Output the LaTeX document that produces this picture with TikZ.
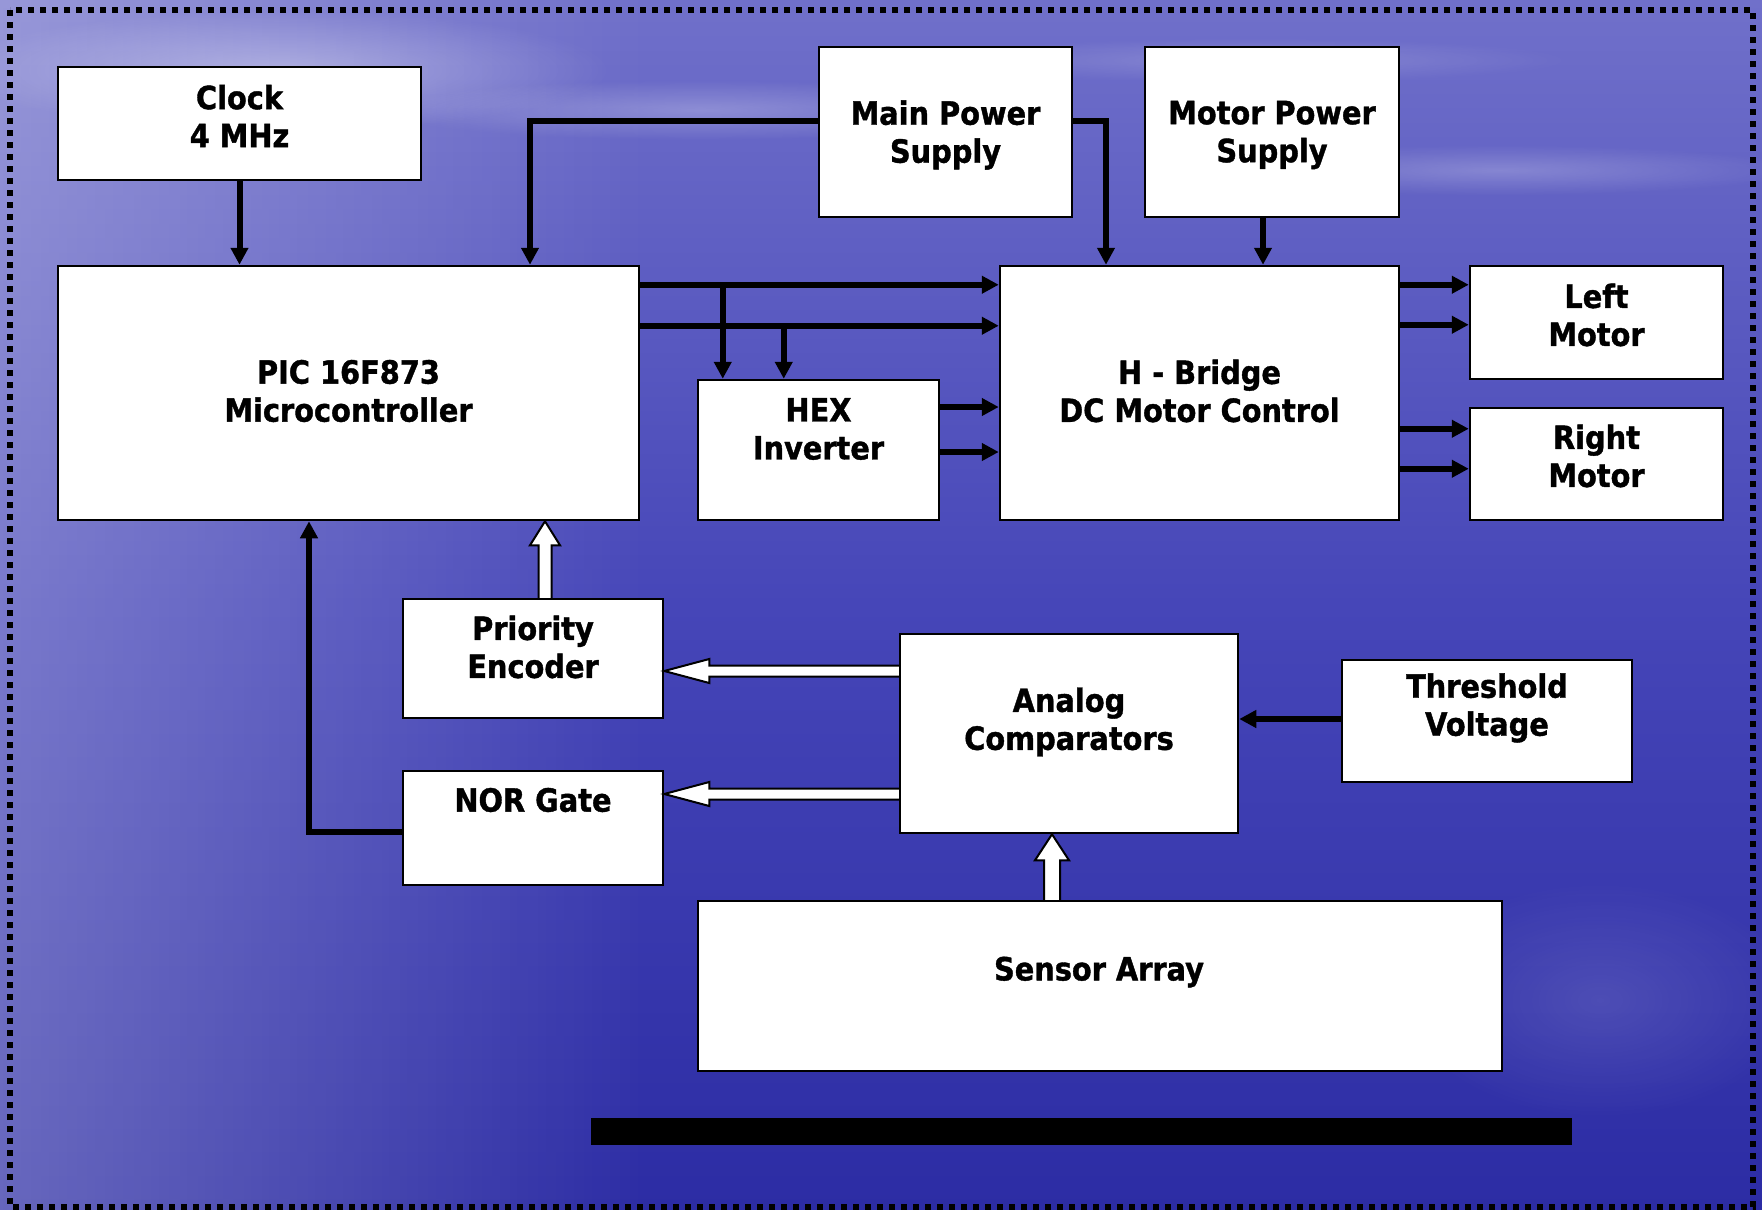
\documentclass[tikz,border=0pt]{standalone}
\usepackage{fontspec}
\setmainfont{DejaVu Sans}[FakeStretch=0.9,BoldFeatures={FakeBold=1.2}]
\usetikzlibrary{arrows.meta,calc,fadings}
\definecolor{bgtop}{RGB}{112,112,202}
\definecolor{bgmid}{RGB}{70,70,184}
\definecolor{bgbot}{RGB}{44,44,164}
\tikzfading[name=fuzzy, inner color=transparent!0, outer color=transparent!100]
\newcommand\hollowup[5]{%
  \draw[hollow] ($(#1)+(-#3,0)$) -- ($(#2)+(-#3,#5)$) -- ($(#2)+(-#4,#5)$) -- (#2)
    -- ($(#2)+(#4,#5)$) -- ($(#2)+(#3,#5)$) -- ($(#1)+(#3,0)$);}
\newcommand\hollowleft[5]{%
  \draw[hollow] ($(#1)+(0,-#3)$) -- ($(#2)+(#5,-#3)$) -- ($(#2)+(#5,-#4)$) -- (#2)
    -- ($(#2)+(#5,#4)$) -- ($(#2)+(#5,#3)$) -- ($(#1)+(0,#3)$);}
\begin{document}
\begin{tikzpicture}[x=1pt,y=-1pt,
  box/.style={draw=black,line width=2.5pt,fill=white,inner sep=0pt},
  txt/.style={font=\fontsize{32}{38}\selectfont\bfseries,align=center,inner sep=0pt,text=black},
  wire/.style={line width=6pt,-{Triangle[length=17pt,width=17pt]}},
  hollow/.style={draw=black,line width=2pt,fill=white,line join=miter}]
\useasboundingbox (0,0) rectangle (1762,1210);
% background
\shade[top color=bgtop, bottom color=bgbot, middle color=bgmid] (0,0) rectangle (1762,1210);
\fill[white, fill opacity=0.28, path fading=east] (0,0) rectangle (650,1210);
\fill[white, fill opacity=0.35, path fading=fuzzy] (280,70) ellipse (330 and 60);
\fill[white, fill opacity=0.25, path fading=fuzzy] (700,110) ellipse (320 and 30);
\fill[white, fill opacity=0.22, path fading=fuzzy] (1500,170) ellipse (300 and 25);
\fill[white, fill opacity=0.18, path fading=fuzzy] (1250,60) ellipse (320 and 22);
\fill[white, fill opacity=0.12, path fading=fuzzy] (1600,1000) ellipse (200 and 120);
% dotted frame
\draw[line width=6pt, dash pattern=on 6pt off 6pt] (10,10) rectangle (1753,1207);
% boxes
\node[box, minimum width=363, minimum height=113] (clock) at (239.5,123.5) {};
\node[box, minimum width=253, minimum height=170] (main) at (945.5,132) {};
\node[box, minimum width=254, minimum height=170] (mps) at (1272,132) {};
\node[box, minimum width=581, minimum height=254] (pic) at (348.5,393) {};
\node[box, minimum width=399, minimum height=254] (hb) at (1199.5,393) {};
\node[box, minimum width=241, minimum height=140] (hex) at (818.5,450) {};
\node[box, minimum width=253, minimum height=113] (lm) at (1596.5,322.5) {};
\node[box, minimum width=253, minimum height=112] (rm) at (1596.5,464) {};
\node[box, minimum width=260, minimum height=119] (pri) at (533,658.5) {};
\node[box, minimum width=260, minimum height=114] (nor) at (533,828) {};
\node[box, minimum width=338, minimum height=199] (an) at (1069,733.5) {};
\node[box, minimum width=290, minimum height=122] (thr) at (1487,721) {};
\node[box, minimum width=804, minimum height=170] (sen) at (1100,986) {};
\fill[black] (591,1118) rectangle (1572,1145);
% texts
\node[txt] (clockT) at (239.5,116) {Clock\\4 MHz};
\node[txt] (mainT) at (945.5,135) {Main Power\\Supply};
\node[txt] (mpsT) at (1272,135) {Motor Power\\Supply};
\node[txt] (picT) at (348.5,391) {PIC 16F873\\Microcontroller};
\node[txt] (hbT) at (1199.5,391) {H - Bridge\\DC Motor Control};
\node[txt] (hexT) at (818.5,429) {HEX\\Inverter};
\node[txt] (lmT) at (1596.5,315) {Left\\Motor};
\node[txt] (rmT) at (1596.5,456) {Right\\Motor};
\node[txt] (priT) at (533,647) {Priority\\Encoder};
\node[txt] (norT) at (533,800) {NOR Gate};
\node[txt] (anT) at (1069,722) {Analog\\Comparators};
\node[txt] (thrT) at (1487,708) {Threshold\\Voltage};
\node[txt] (senT) at (1099,972) {Sensor Array};
% black connectors
\draw[wire] (clock.south) -- (clock.south |- pic.north);
\draw[wire] ($(main.west)+(0,-11)$) -| ($(pic.north)+(181.5,0)$);
\draw[wire] ($(main.east)+(0,-11)$) -| ($(hb.north)+(-93.5,0)$);
\coordinate (mpsA) at ($(mps.south)+(-9,0)$);
\draw[wire] (mpsA) -- (mpsA |- hb.north);
\coordinate (p1) at ($(pic.north east)+(0,20)$);
\coordinate (p2) at ($(pic.north east)+(0,61)$);
\draw[wire] (p1) -- (p1 -| hb.west);
\draw[wire] (p2) -- (p2 -| hb.west);
\coordinate (j1) at ($(p1 -| hex.west)+(26,0)$);
\coordinate (j2) at ($(p2 -| hex.west)+(87,0)$);
\draw[wire] (j1) -- (j1 |- hex.north);
\draw[wire] (j2) -- (j2 |- hex.north);
\coordinate (h1) at ($(hex.east)+(0,-43)$);
\coordinate (h2) at ($(hex.east)+(0,2)$);
\draw[wire] (h1) -- (h1 -| hb.west);
\draw[wire] (h2) -- (h2 -| hb.west);
\coordinate (o1) at ($(hb.north east)+(0,20)$);
\coordinate (o2) at ($(hb.north east)+(0,60)$);
\coordinate (o3) at ($(hb.north east)+(0,164)$);
\coordinate (o4) at ($(hb.north east)+(0,204)$);
\draw[wire] (o1) -- (o1 -| lm.west);
\draw[wire] (o2) -- (o2 -| lm.west);
\draw[wire] (o3) -- (o3 -| rm.west);
\draw[wire] (o4) -- (o4 -| rm.west);
\coordinate (t1) at ($(thr.west)+(0,-2)$);
\draw[wire] (t1) -- (t1 -| an.east);
\coordinate (n1) at ($(nor.west)+(0,4)$);
\draw[wire,line join=miter] (n1) -| ($(pic.south)+(-39.5,0)$);
% hollow arrows
\coordinate (s1) at ($(sen.north)+(-48,0)$);
\coordinate (s1t) at (s1 |- an.south);
\hollowup{s1}{s1t}{8}{17}{26}
\coordinate (q1) at ($(pri.north)+(12,0)$);
\coordinate (q1t) at (q1 |- pic.south);
\hollowup{q1}{q1t}{6.5}{15}{24}
\coordinate (a1) at ($(an.west)+(0,-62.5)$);
\coordinate (a1t) at (a1 -| pri.east);
\hollowleft{a1}{a1t}{5.5}{12}{45}
\coordinate (a2) at ($(an.west)+(0,60.5)$);
\coordinate (a2t) at (a2 -| nor.east);
\hollowleft{a2}{a2t}{5.5}{12}{45}
\end{tikzpicture}
\end{document}
